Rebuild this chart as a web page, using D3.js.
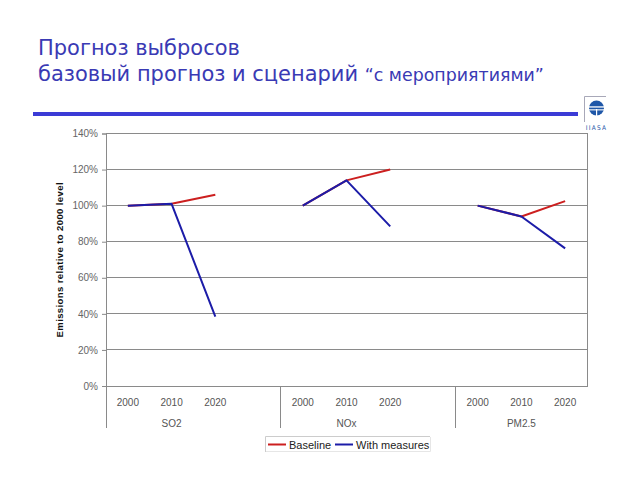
<!DOCTYPE html>
<html><head><meta charset="utf-8">
<script src="https://cdn.jsdelivr.net/npm/d3@7"></script>
<style>body{margin:0;background:#fff}svg{display:block}</style>
</head><body>
<svg id="c" width="640" height="480"></svg>
<script>
const groups = ["SO2", "NOx", "PM2.5"];
const years = ["2000", "2010", "2020"];
const baseline = [[100, 101, 106], [100, 114, 120], [100, 94, 102.5]];
const withMeasures = [[100, 101, 38.5], [100, 114, 88.5], [100, 94, 76.3]];
const yTicks = [0, 20, 40, 60, 80, 100, 120, 140];
const seriesNames = ["Baseline", "With measures"];
const seriesColors = ["#cc1f1f", "#1c1ca8"];

const svg = d3.select("#c");
const L = 106, R = 587, T = 133.5, B = 386;

const slots = [];
groups.forEach((g, gi) => {
  years.forEach(y => slots.push(g + "|" + y));
  if (gi < groups.length - 1) slots.push(g + "|blank");
});
const x = d3.scaleBand().domain(slots).range([L, R]);
const y = d3.scaleLinear().domain([0, 140]).range([B, T]);

// title
const titleColor = "#3a3ab4";
const tf = "DejaVu Sans, Verdana, sans-serif";
const t1 = svg.append("text").attr("x", 38).attr("y", 54.5).attr("fill", titleColor)
  .style("font-family", tf).style("font-size", "20px")
  .text("Прогноз выбросов");
const w1 = t1.node().getComputedTextLength();
const fs = 20 * 202 / w1;
t1.style("font-size", fs + "px");
const t2 = svg.append("text").attr("x", 38).attr("y", 80.5).attr("fill", titleColor)
  .style("font-family", tf).style("font-size", fs + "px");
const s1 = t2.append("tspan").text("базовый прогноз и сценарий ");
const s2 = t2.append("tspan").style("font-size", (fs * 0.83) + "px").text("“с мероприятиями”");

// rule
svg.append("line").attr("x1", 33).attr("x2", 578).attr("y1", 114).attr("y2", 114)
  .attr("stroke", "#3b3bd6").attr("stroke-width", 4);

// logo
const lg = svg.append("g");
lg.append("path").attr("d", "M584.5,122 V96.5 H606").attr("fill", "none").attr("stroke", "#a8a8b8").attr("stroke-width", 1);
lg.append("circle").attr("cx", 596.5).attr("cy", 108).attr("r", 7.5).attr("fill", "#1f57a8");
lg.append("rect").attr("x", 588).attr("y", 106.3).attr("width", 17).attr("height", 1.3).attr("fill", "#fff");
lg.append("rect").attr("x", 588).attr("y", 109.3).attr("width", 17).attr("height", 1.1).attr("fill", "#fff");
lg.append("rect").attr("x", 596).attr("y", 109).attr("width", 1.2).attr("height", 8).attr("fill", "#fff");
lg.append("text").attr("x", 596.5).attr("y", 129.5).attr("text-anchor", "middle")
  .attr("fill", "#1f57a8").style("font-family", "DejaVu Sans Condensed, sans-serif")
  .style("font-size", "6.5px").style("letter-spacing", "1.2px").text("IIASA");

// grid
svg.append("g").selectAll("line").data(yTicks.filter(d => d > 0)).join("line")
  .attr("x1", L).attr("x2", R).attr("y1", d => y(d)).attr("y2", d => y(d))
  .attr("stroke", "#8a8a8a").attr("stroke-width", 1).attr("shape-rendering", "crispEdges");
svg.append("rect").attr("x", L).attr("y", T).attr("width", R - L).attr("height", B - T)
  .attr("fill", "none").attr("stroke", "#8a8a8a").attr("shape-rendering", "crispEdges");

// y axis
const ya = svg.append("g").attr("transform", `translate(${L},0)`)
  .call(d3.axisLeft(y).tickValues(yTicks).tickFormat(d => d + "%").tickSize(4).tickPadding(4));
ya.select(".domain").attr("stroke", "#8a8a8a");
ya.selectAll(".tick line").attr("stroke", "#8a8a8a");
ya.selectAll("text").attr("fill", "#666").style("font-family", "Liberation Sans, Arial, sans-serif").style("font-size", "10px");

svg.append("text").attr("transform", `translate(63,${(T + B) / 2}) rotate(-90)`)
  .attr("text-anchor", "middle").attr("fill", "#111")
  .style("font-family", "Liberation Sans, Arial, sans-serif").style("font-size", "9.5px").style("font-weight", "bold")
  .style("letter-spacing", "0.4px")
  .text("Emissions relative to 2000 level");

// category axis
const catFont = s => s.style("font-family", "Liberation Sans, Arial, sans-serif").style("font-size", "10px").attr("fill", "#555");
groups.forEach((g, gi) => {
  years.forEach(yr => {
    svg.append("text").attr("x", x(g + "|" + yr) + x.bandwidth() / 2).attr("y", 405.5)
      .attr("text-anchor", "middle").call(catFont).text(yr);
  });
  const x0 = x(g + "|" + years[0]);
  const x1 = x(g + "|" + years[years.length - 1]) + x.bandwidth();
  svg.append("text").attr("x", (x0 + x1) / 2).attr("y", 426.5).attr("text-anchor", "middle").call(catFont).text(g);
  svg.append("line").attr("x1", x0).attr("x2", x0).attr("y1", B).attr("y2", 428)
    .attr("stroke", "#8a8a8a").attr("shape-rendering", "crispEdges");
});

// lines
const line = d3.line().x(d => x(d.k) + x.bandwidth() / 2).y(d => y(d.v));
[baseline, withMeasures].forEach((ser, si) => {
  groups.forEach((g, gi) => {
    const pts = years.map((yr, yi) => ({ k: g + "|" + yr, v: ser[gi][yi] }));
    svg.append("path").attr("d", line(pts)).attr("fill", "none")
      .attr("stroke", seriesColors[si]).attr("stroke-width", 2).attr("stroke-linejoin", "round");
  });
});

// legend
const lgd = svg.append("g");
lgd.append("path").attr("d", "M265.5,452 V436.5 H430").attr("fill", "none").attr("stroke", "#ccc");
lgd.append("path").attr("d", "M266,451.5 H430.5 V437").attr("fill", "none").attr("stroke", "#e6e6e6");
const items = [{ x: 268, tx: 289 }, { x: 335, tx: 356 }];
seriesNames.forEach((n, i) => {
  lgd.append("line").attr("x1", items[i].x).attr("x2", items[i].x + 18).attr("y1", 444.5).attr("y2", 444.5)
    .attr("stroke", seriesColors[i]).attr("stroke-width", 2);
  lgd.append("text").attr("x", items[i].tx).attr("y", 448.5).attr("fill", "#222")
    .style("font-family", "Liberation Sans, Arial, sans-serif").style("font-size", "11px").text(n);
});
</script>
</body></html>
